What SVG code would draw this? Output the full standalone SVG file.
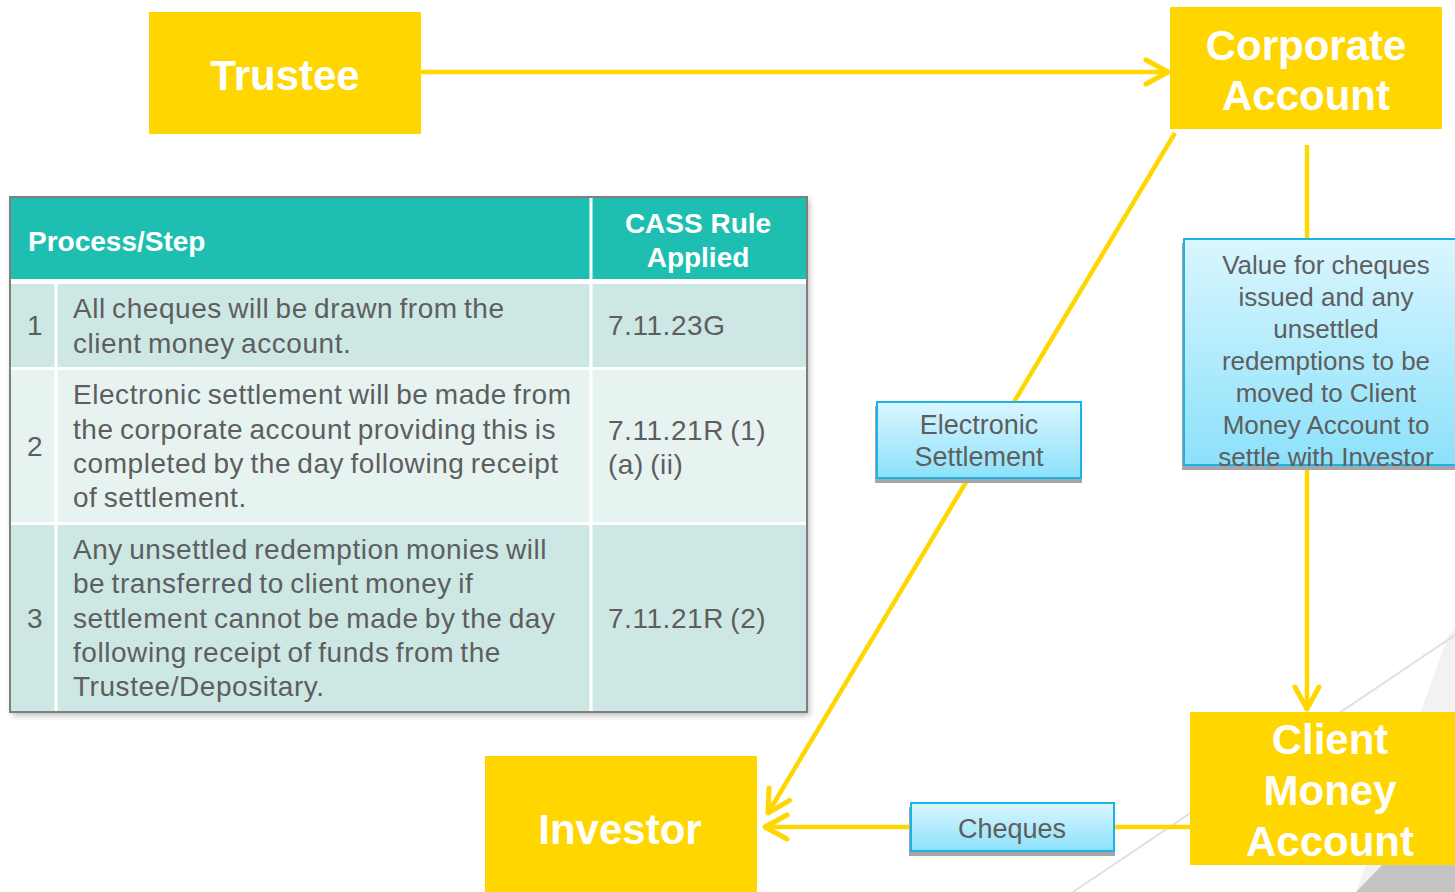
<svg xmlns="http://www.w3.org/2000/svg" width="1455" height="892" viewBox="0 0 1455 892">
  <style>
    .node { fill: #FFD600; }
    .node-text { font-family: "Liberation Sans", Arial, sans-serif; font-weight: bold; font-size: 42px; fill: #FFFFFF; text-anchor: middle; }
    .wire { stroke: #FFD600; stroke-width: 4.5; fill: none; }
    .label-box { fill: url(#labelFill); stroke: #1BB2E8; stroke-width: 2; }
    .label-shadow { fill: #A6A6A6; }
    .label-text { font-family: "Liberation Sans", Arial, sans-serif; font-size: 27px; fill: #5E5E5E; text-anchor: middle; }
    .th { font-family: "Liberation Sans", Arial, sans-serif; font-weight: bold; font-size: 28px; fill: #FFFFFF; }
    .td { font-family: "Liberation Sans", Arial, sans-serif; font-size: 28px; fill: #5E5E5E; letter-spacing: 0.55px; word-spacing: -2px; }
    .sep { stroke: #FFFFFF; stroke-width: 3; }
  </style>
  <defs>
    <linearGradient id="labelFill" x1="0" y1="0" x2="0" y2="1">
      <stop offset="0" stop-color="#DAF6FE"/>
      <stop offset="1" stop-color="#8CE1FB"/>
    </linearGradient>
    <marker id="chevron" markerUnits="userSpaceOnUse" orient="auto" refX="0" refY="0" markerWidth="30" markerHeight="30" overflow="visible">
      <path d="M-22,-12 L0,0 L-22,12" fill="none" stroke="#FFD600" stroke-width="5" stroke-linecap="round" stroke-linejoin="round"/>
    </marker>
    <filter id="tableShadow" x="-5%" y="-5%" width="110%" height="110%">
      <feDropShadow dx="2" dy="3" stdDeviation="3" flood-color="#000000" flood-opacity="0.3"/>
    </filter>
  </defs>

  <!-- background decoration -->
  <g id="backdrop">
    <rect x="0" y="0" width="1455" height="892" fill="#FFFFFF"/>
    <polygon points="1455,628 1448,636 1356,892 1455,892" fill="#F2F2F2"/>
    <polygon points="1385,862 1455,840 1455,892 1356,892" fill="#C3C3C3"/>
    <line x1="1073" y1="892" x2="1455" y2="635" stroke="#E0E0E0" stroke-width="2"/>
  </g>

  <!-- connectors -->
  <g id="connectors">
    <line class="wire" x1="421" y1="72" x2="1168" y2="72" marker-end="url(#chevron)"/>
    <line class="wire" x1="1175" y1="133" x2="768" y2="813" marker-end="url(#chevron)"/>
    <line class="wire" x1="1307" y1="145" x2="1307" y2="709" marker-end="url(#chevron)"/>
    <line class="wire" x1="1190" y1="827" x2="765" y2="827" marker-end="url(#chevron)"/>
  </g>

  <!-- CASS rules table -->
  <g id="rules-table">
    <rect x="10" y="197" width="797" height="515" fill="#FFFFFF" filter="url(#tableShadow)"/>
    <rect x="10" y="197" width="797" height="82" fill="#1EBFB1"/>
    <rect x="10" y="284" width="797" height="84" fill="#CDE8E4"/>
    <rect x="10" y="369" width="797" height="154" fill="#E7F3F1"/>
    <rect x="10" y="524" width="797" height="188" fill="#CDE8E4"/>
    <line class="sep" x1="591" y1="197" x2="591" y2="712"/>
    <line class="sep" x1="56" y1="284" x2="56" y2="712"/>
    <line class="sep" x1="10" y1="281.5" x2="807" y2="281.5" stroke-width="5"/>
    <line class="sep" x1="10" y1="368.5" x2="807" y2="368.5" stroke-width="2"/>
    <line class="sep" x1="10" y1="523.5" x2="807" y2="523.5" stroke-width="2"/>
    <rect x="10" y="197" width="797" height="515" fill="none" stroke="#7F7F7F" stroke-width="2"/>

    <text class="th" x="28" y="251">Process/Step</text>
    <text class="th" x="698" y="233" text-anchor="middle">CASS Rule</text>
    <text class="th" x="698" y="267" text-anchor="middle">Applied</text>

    <text class="td" x="35" y="335" text-anchor="middle">1</text>
    <text class="td" x="73" y="318">All cheques will be drawn from the</text>
    <text class="td" x="73" y="353">client money account.</text>
    <text class="td" x="608" y="335">7.11.23G</text>

    <text class="td" x="35" y="456" text-anchor="middle">2</text>
    <text class="td" x="73" y="404">Electronic settlement will be made from</text>
    <text class="td" x="73" y="439">the corporate account providing this is</text>
    <text class="td" x="73" y="473">completed by the day following receipt</text>
    <text class="td" x="73" y="507">of settlement.</text>
    <text class="td" x="608" y="440">7.11.21R (1)</text>
    <text class="td" x="608" y="474">(a) (ii)</text>

    <text class="td" x="35" y="628" text-anchor="middle">3</text>
    <text class="td" x="73" y="559">Any unsettled redemption monies will</text>
    <text class="td" x="73" y="593">be transferred to client money if</text>
    <text class="td" x="73" y="628">settlement cannot be made by the day</text>
    <text class="td" x="73" y="662">following receipt of funds from the</text>
    <text class="td" x="73" y="696">Trustee/Depositary.</text>
    <text class="td" x="608" y="628">7.11.21R (2)</text>
  </g>

  <!-- nodes -->
  <g id="node-trustee">
    <rect class="node" x="149" y="12" width="272" height="122"/>
    <text class="node-text" x="285" y="90">Trustee</text>
  </g>
  <g id="node-corporate-account">
    <rect class="node" x="1170" y="7" width="272" height="122"/>
    <text class="node-text" x="1306" y="60">Corporate</text>
    <text class="node-text" x="1306" y="110">Account</text>
  </g>
  <g id="node-investor">
    <rect class="node" x="485" y="756" width="272" height="136"/>
    <text class="node-text" x="620" y="844">Investor</text>
  </g>
  <g id="node-client-money-account">
    <rect class="node" x="1190" y="712" width="265" height="153"/>
    <text class="node-text" x="1330" y="754">Client</text>
    <text class="node-text" x="1330" y="805">Money</text>
    <text class="node-text" x="1330" y="856">Account</text>
  </g>

  <!-- connector labels -->
  <g id="label-electronic-settlement">
    <rect class="label-shadow" x="875" y="406" width="207" height="77"/>
    <rect class="label-box" x="877" y="402" width="204" height="76"/>
    <text class="label-text" x="979" y="434">Electronic</text>
    <text class="label-text" x="979" y="466">Settlement</text>
  </g>
  <g id="label-value-transfer">
    <rect class="label-shadow" x="1182" y="243" width="275" height="227"/>
    <rect class="label-box" x="1184" y="239" width="275" height="226"/>
    <g class="label-text" style="font-size:26px">
      <text x="1326" y="274">Value for cheques</text>
      <text x="1326" y="306">issued and any</text>
      <text x="1326" y="338">unsettled</text>
      <text x="1326" y="370">redemptions to be</text>
      <text x="1326" y="402">moved to Client</text>
      <text x="1326" y="434">Money Account to</text>
      <text x="1326" y="466">settle with Investor</text>
    </g>
  </g>
  <g id="label-cheques">
    <rect class="label-shadow" x="909" y="807" width="206" height="49"/>
    <rect class="label-box" x="911" y="803" width="203" height="48"/>
    <text class="label-text" x="1012" y="838">Cheques</text>
  </g>
</svg>
